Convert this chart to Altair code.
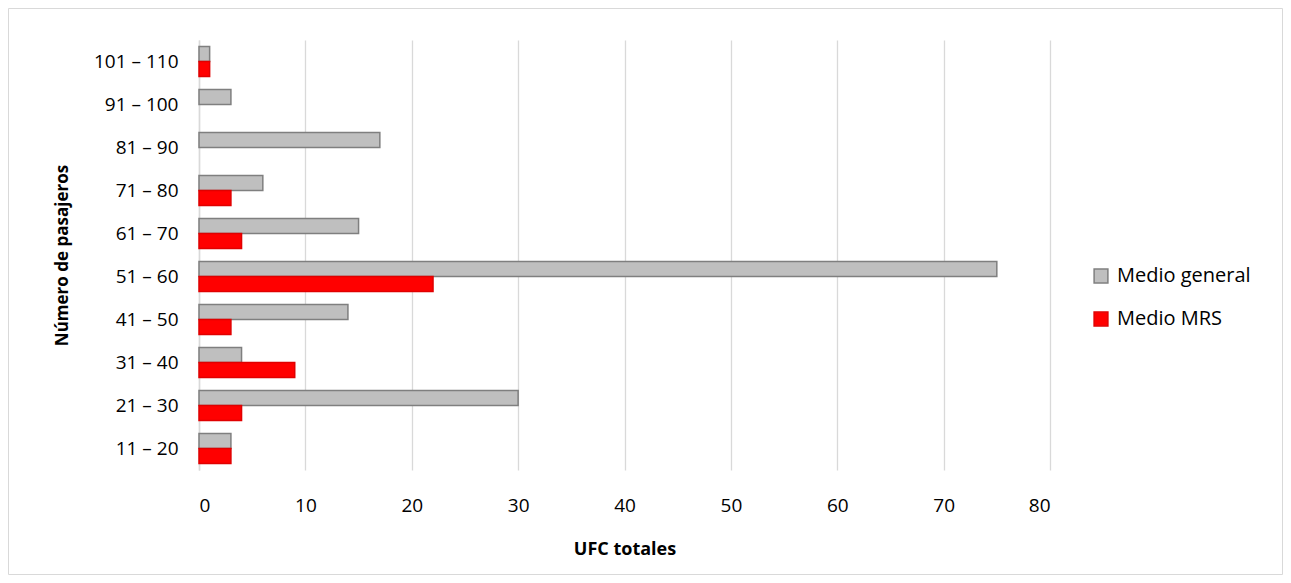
import altair as alt
import pandas as pd

categories = ["11 – 20", "21 – 30", "31 – 40", "41 – 50", "51 – 60",
              "61 – 70", "71 – 80", "81 – 90", "91 – 100", "101 – 110"]
medio_general = [3, 30, 4, 14, 75, 15, 6, 17, 3, 1]
medio_mrs = [3, 4, 9, 3, 22, 4, 3, 0, 0, 1]
series = ["Medio general", "Medio MRS"]

rows = []
for c, g, m in zip(categories, medio_general, medio_mrs):
    rows.append({"cat": c, "serie": series[0], "val": g})
    rows.append({"cat": c, "serie": series[1], "val": m})
df = pd.DataFrame(rows)

FONT = "Open Sans"
W, H = 851, 430
PL, PT = 191, 32
TW, TH = 1275, 567

bars = alt.Chart(df).transform_filter("datum.val > 0").mark_bar(strokeWidth=1.5).encode(
    x=alt.X("val:Q", scale=alt.Scale(domain=[0, 80], nice=False),
            axis=alt.Axis(values=list(range(0, 81, 10)), title="UFC totales",
                          grid=True, gridColor="#D9D9D9", gridWidth=1.3,
                          domain=False, ticks=False, labelPadding=26,
                          labelFontSize=19, labelColor="#000000",
                          titleFontSize=18, titleFontWeight="bold",
                          titleColor="#000000", titlePadding=25)),
    y=alt.Y("cat:N", sort=list(reversed(categories)),
            scale=alt.Scale(paddingInner=0.3, paddingOuter=0.15),
            axis=alt.Axis(title="Número de pasajeros", ticks=False,
                          domain=True, domainColor="#D9D9D9", domainWidth=1.5,
                          labelPadding=21, labelFontSize=19, labelColor="#000000",
                          titleFontSize=17, titleFontWeight="bold",
                          titleColor="#000000", titlePadding=22)),
    yOffset=alt.YOffset("serie:N", sort=series),
    color=alt.Color("serie:N", sort=series,
                    scale=alt.Scale(domain=series, range=["#BFBFBF", "#FF0000"]),
                    legend=alt.Legend(title=None, orient="none", legendX=892, legendY=226,
                                      symbolType="square", symbolSize=190,
                                      symbolStrokeWidth=1.5,
                                      labelFontSize=20, labelColor="#000000",
                                      rowPadding=23, labelOffset=6)),
    stroke=alt.Stroke("serie:N", sort=series,
                      scale=alt.Scale(domain=series, range=["#7F7F7F", "#E00000"]),
                      legend=None),
)

frame = alt.Chart(pd.DataFrame({"a": [0]})).mark_rect(
    fill=None, stroke="#D9D9D9", strokeWidth=1
).encode(
    x=alt.value(-PL + 0.5), x2=alt.value(TW - PL - 0.5),
    y=alt.value(-PT + 0.5), y2=alt.value(TH - PT - 0.5),
)

chart = alt.layer(bars, frame).properties(
    width=W, height=H,
    autosize=alt.AutoSizeParams(type="none"),
    padding={"left": PL, "top": PT, "right": TW - PL - W, "bottom": TH - PT - H},
).configure(font=FONT).configure_view(stroke=None)

chart.save("out.html", embed_options={"renderer": "svg", "actions": False})
